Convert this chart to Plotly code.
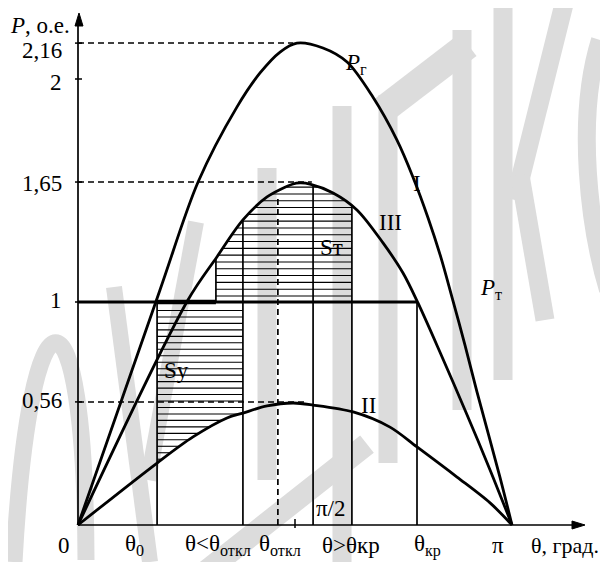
import numpy as np
import plotly.graph_objects as go

# ---------------- data (theta in degrees, P in p.u.) ----------------
theta_I = [0, 34.0, 49.8, 65.9, 75.5, 83.8, 90.8, 101.6, 111.6, 122.3, 132.3, 138.9, 145.2, 150.6, 155.1, 160.5, 165.5, 175.0, 180]
P_I = [0, 1.054, 1.538, 1.874, 2.027, 2.121, 2.161, 2.139, 2.076, 1.919, 1.726, 1.561, 1.377, 1.197, 1.022, 0.807, 0.596, 0.215, 0]

theta_III = [0, 45.6, 57.6, 68.4, 78.4, 89.2, 92.1, 96.2, 105.8, 115.7, 126.5, 134.8, 141.0, 150.1, 160.5, 170.9, 180]
P_III = [0, 1.009, 1.202, 1.368, 1.471, 1.529, 1.534, 1.529, 1.489, 1.413, 1.265, 1.130, 0.996, 0.776, 0.516, 0.247, 0]

theta_II = [0, 32.8, 47.7, 61.8, 68.4, 78.4, 89.2, 97.5, 114.1, 129.4, 140.6, 157.2, 170.9, 180]
P_II = [0, 0.278, 0.395, 0.480, 0.502, 0.534, 0.547, 0.538, 0.507, 0.439, 0.350, 0.215, 0.099, 0]

P_turbine = 1.0
theta_0 = 32.8        # θ0
theta_step = 57.2     # step of hatch region
theta_lt = 68.4       # θ<θоткл
theta_otkl = 82.9     # θоткл
theta_mid = 97.5      # line right of π/2
theta_gt = 113.6      # θ>θкр
theta_kr = 140.6      # θкр
theta_half_pi = 90.0

ytick_pos = [2.161, 2.0, 1.538, 1.0, 0.552]
ytick_text = ["2,16", "2", "1,65", "1", "0,56"]
dash_levels = [2.161, 1.538, 0.552]
dash_ends = [89.2, 97.0, 95.4]

xlabels = ["0", "θ<sub>0</sub>", "θ<θ<sub>откл</sub>", "θ<sub>откл</sub>", "θ>θкр", "θ<sub>кр</sub>", "π"]

# ---------------- pixel <-> data helpers (layout only) ----------------
OFF = 8   # page body margin
W, H = 608 - OFF, 562 - OFF
def dx(px):
    return (px - 78) * 180.0 / 434.0
def dy(py):
    return (525 - py) / 223.0

FONT = "Liberation Serif, Times New Roman, serif"
fig = go.Figure()

def add_line(x, y, width, dash=None, shape="linear"):
    fig.add_trace(go.Scatter(x=x, y=y, mode="lines",
                             line=dict(color="black", width=width, dash=dash, shape=shape, smoothing=0.9),
                             hoverinfo="skip", showlegend=False))

def branches(th, p):
    th = np.array(th, float); p = np.array(p, float)
    k = int(np.argmax(p))
    left = (p[:k + 1], th[:k + 1])
    right = (p[k:][::-1], th[k:][::-1])
    return left, right

(III_lp, III_lt), (III_rp, III_rt) = branches(theta_III, P_III)
(II_lp, II_lt), _ = branches(theta_II, P_II)

def interp_curve(th, p, x):
    return float(np.interp(x, th, p))

# ---------------- hatch lines ----------------
hx, hy = [], []
for P in np.arange(0.962, 0.29, -0.029):
    xl = theta_0
    xr = min(theta_lt, float(np.interp(P, II_lp, II_lt)))
    if xr > xl + 0.5:
        hx += [xl, xr, None]; hy += [P, P, None]
for P in np.arange(1.027, 1.525, 0.0305):
    xl = max(theta_step, float(np.interp(P, III_lp, III_lt)))
    xr = min(theta_gt, float(np.interp(P, III_rp, III_rt)))
    if xr > xl + 0.5:
        hx += [xl, xr, None]; hy += [P, P, None]
add_line(hx, hy, 1.1)

# ---------------- vertical lines ----------------
vx, vy = [], []
for t, top in [(theta_0, P_turbine),
               (theta_lt, interp_curve(theta_III, P_III, theta_lt)),
               (theta_mid, interp_curve(theta_III, P_III, theta_mid)),
               (theta_gt, interp_curve(theta_III, P_III, theta_gt)),
               (theta_kr, P_turbine)]:
    vx += [t, t, None]; vy += [0, top, None]
vx += [theta_step, theta_step, None]
vy += [P_turbine, interp_curve(theta_III, P_III, theta_step), None]
add_line(vx, vy, 1.7)
add_line([theta_otkl, theta_otkl], [0, interp_curve(theta_III, P_III, theta_otkl) - 0.03], 1.7, dash="6px,4px")

for lvl, end in zip(dash_levels, dash_ends):
    add_line([0, end], [lvl, lvl], 1.5, dash="6px,4px")

add_line([0, theta_kr], [P_turbine, P_turbine], 3)
add_line([theta_0, theta_step], [P_turbine, P_turbine], 4.5)

add_line(theta_I, P_I, 2.8, shape="spline")
add_line(theta_III, P_III, 2.8, shape="spline")
add_line(theta_II, P_II, 2.8, shape="spline")

# ---------------- decorations ----------------
shapes = []
def path(pts, close=False):
    s = "M " + " L ".join(f"{dx(a):.3f},{dy(b):.4f}" for a, b in pts)
    return s + (" Z" if close else "")

WM = "#dcdcdc"
def wm(pts, w):
    shapes.append(dict(type="path", path=path(pts), line=dict(color=WM, width=w), layer="below"))
arc = (f"M {dx(14):.3f},{dy(562):.4f} C {dx(30):.3f},{dy(270):.4f} "
       f"{dx(85):.3f},{dy(270):.4f} {dx(86):.3f},{dy(560):.4f}")
shapes.append(dict(type="path", path=arc, line=dict(color=WM, width=17), layer="below"))
wm([(114, 287), (150, 562)], 16)
wm([(196, 222), (148, 480)], 16)
wm([(205, 572), (367, 444)], 22)
wm([(267, 168), (267, 480)], 19)
wm([(342, 106), (342, 562)], 19)
wm([(388, 95), (388, 463)], 19)
wm([(383, 110), (468, 45)], 28)
wm([(462, 30), (462, 410)], 19)
wm([(503, 0), (503, 380)], 19)
wm([(515, 200), (565, 0)], 19)
wm([(520, 175), (545, 320)], 19)
arc2 = (f"M {dx(600):.3f},{dy(40):.4f} C {dx(575):.3f},{dy(120):.4f} "
        f"{dx(590):.3f},{dy(230):.4f} {dx(608):.3f},{dy(290):.4f}")
shapes.append(dict(type="path", path=arc2, line=dict(color=WM, width=18), layer="below"))

shapes.append(dict(type="line", x0=dx(78), x1=dx(78), y0=dy(525), y1=dy(22), line=dict(color="black", width=1.7)))
shapes.append(dict(type="line", x0=dx(78), x1=dx(576), y0=dy(525), y1=dy(525), line=dict(color="black", width=1.7)))
shapes.append(dict(type="path", path=path([(79, 13), (75, 26), (83, 26)], True), fillcolor="black", line=dict(color="black", width=1)))
shapes.append(dict(type="path", path=path([(585, 525), (572, 521), (572, 529)], True), fillcolor="black", line=dict(color="black", width=1)))
for p in ytick_pos:
    shapes.append(dict(type="line", x0=dx(75), x1=dx(82), y0=p, y1=p, line=dict(color="black", width=1.5)))
shapes.append(dict(type="line", x0=theta_half_pi, x1=theta_half_pi, y0=dy(519), y1=dy(528), line=dict(color="black", width=1.5)))

# ---------------- text ----------------
ann = []
def txt(t, px, py, size=23, xanchor="center"):
    ann.append(dict(text=t, x=dx(px), y=dy(py), xref="x", yref="y", showarrow=False,
                    xanchor=xanchor, yanchor="middle", font=dict(family=FONT, size=size, color="black")))

for t, py in zip(ytick_text, [50, 82, 183, 300, 400]):
    txt(t, 64, py, xanchor="right")
for t, px in zip(xlabels, [64, 134, 218, 280, 351, 427, 498]):
    txt(t, px, 545)
txt("θ, град.", 529, 545, size=22, xanchor="left")
txt("<i>P</i>, о.е.", 40, 25)
txt("<i>P</i><sub>г</sub>", 356, 64)
txt("I", 417, 183)
txt("III", 390, 222)
txt("Sт", 331, 247)
txt("<i>P</i><sub>т</sub>", 491, 289)
txt("Sу", 176, 370)
txt("II", 368, 405)
txt("π/2", 331, 508)

fig.update_layout(
    width=W, height=H, autosize=False,
    margin=dict(l=0, r=0, t=0, b=0),
    paper_bgcolor="white", plot_bgcolor="white",
    xaxis=dict(range=[dx(OFF), dx(608)], visible=False, fixedrange=True),
    yaxis=dict(range=[dy(562), dy(OFF)], visible=False, fixedrange=True),
    shapes=shapes, annotations=ann, showlegend=False,
)
fig.write_html("out.html")
